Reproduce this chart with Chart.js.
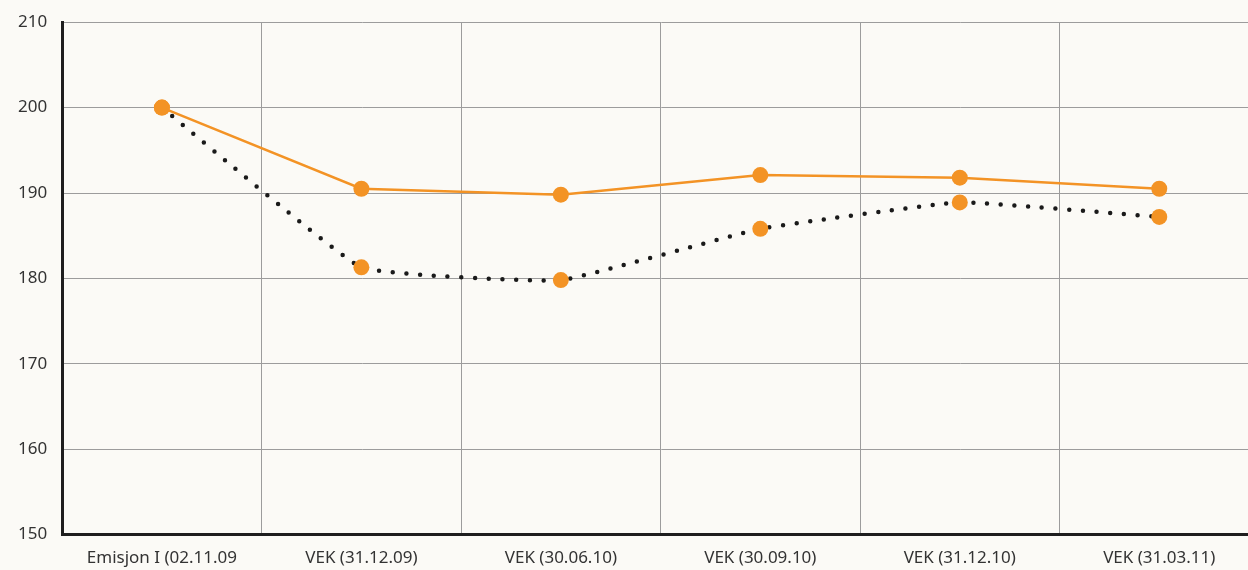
<html>
  <head>
    <meta charset="utf-8">
    <title>VEK</title>
    <script src="https://cdn.jsdelivr.net/npm/chart.js@4.4.0/dist/chart.umd.min.js"></script>
    <style>
      body { margin: 0; background: #fbfaf6; overflow: hidden; }
      #wrap { width: 1267px; height: 570px; overflow: hidden; }
      #myChart { display: block; margin-top: -3px; }
    </style>
  </head>
  <body>
    <div id="wrap"><canvas id="myChart" width="1267" height="584"></canvas></div>
    <script type="text/javascript">
      const labels = ["Emisjon I (02.11.09", "VEK (31.12.09)", "VEK (30.06.10)", "VEK (30.09.10)", "VEK (31.12.10)", "VEK (31.03.11)"];
      const solidValues = [200, 190.5, 189.8, 192.1, 191.8, 190.5];
      const dottedValues = [200, 181.3, 179.8, 185.8, 188.9, 187.2];
      const orange = '#f39325';

      var ctx = document.getElementById('myChart').getContext('2d');
      var chart = new Chart(ctx, {
        type: 'line',
        data: {
          labels: labels,
          datasets: [{
            data: solidValues,
            borderColor: orange,
            borderWidth: 2.5,
            backgroundColor: orange,
            pointBackgroundColor: orange,
            pointBorderWidth: 0,
            pointRadius: 8,
            tension: 0,
            order: 1
          }, {
            data: dottedValues,
            borderColor: '#1a1a1a',
            borderWidth: 4.5,
            borderDash: [0, 13.7],
            borderCapStyle: 'round',
            backgroundColor: orange,
            pointBackgroundColor: orange,
            pointBorderWidth: 0,
            pointRadius: 8,
            tension: 0.1,
            order: 2
          }]
        },
        options: {
          responsive: false,
          animation: false,
          layout: { padding: { left: 3, top: 0, right: 0, bottom: 0 } },
          plugins: { legend: { display: false }, tooltip: { enabled: false } },
          scales: {
            x: {
              offset: true,
              grid: { offset: true, color: '#9c9c9c', lineWidth: 1, drawTicks: false },
              border: { color: '#1e1e1e', width: 3 },
              ticks: { color: '#333', padding: 13, maxRotation: 0, autoSkip: false, font: { family: 'Noto Sans', size: 17 } }
            },
            y: {
              min: 150,
              max: 210,
              grid: { color: '#9c9c9c', lineWidth: 1, drawTicks: false },
              border: { color: '#1e1e1e', width: 3 },
              ticks: { stepSize: 10, color: '#333', padding: 15, font: { family: 'Noto Sans', size: 17 } }
            }
          }
        }
      });
    </script>
  </body>
</html>
